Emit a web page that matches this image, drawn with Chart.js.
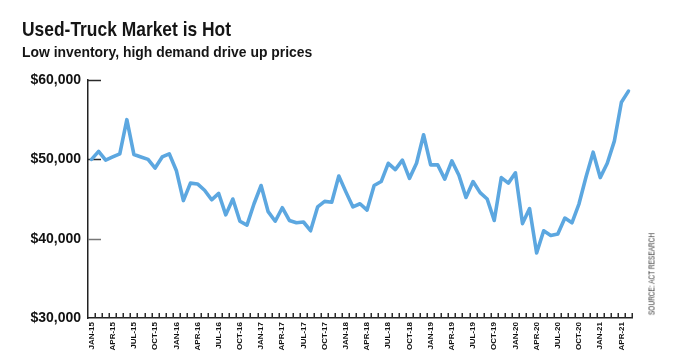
<!DOCTYPE html>
<html>
<head>
<meta charset="utf-8">
<script src="https://cdn.jsdelivr.net/npm/chart.js@4/dist/chart.umd.min.js"></script>
<style>
  html, body { margin: 0; padding: 0; background: #fff; }
  #wrap { position: relative; width: 684px; height: 359px; overflow: hidden; background: #fff; }
  #chart { position: absolute; left: 0; top: 0; }
  .narrow { font-family: "Liberation Sans", Arial, sans-serif; }
  #title { position: absolute; left: 22px; top: 17.5px; font-size: 21px; font-weight: bold; line-height: 21px; color: #151515; white-space: nowrap; transform-origin: left top; }
  #subtitle { position: absolute; left: 22px; top: 45px; font-size: 14px; font-weight: bold; line-height: 14px; color: #151515; white-space: nowrap; transform-origin: left top; }
  #source { position: absolute; left: 652px; top: 274px; font-size: 9px; line-height: 9px; color: #333; white-space: nowrap; }
</style>
</head>
<body>
<div id="wrap">
  <canvas id="chart" width="684" height="359"></canvas>
  <div id="title" class="narrow">Used-Truck Market is Hot</div>
  <div id="subtitle" class="narrow">Low inventory, high demand drive up prices</div>
  <div id="source" class="narrow">SOURCE: ACT RESEARCH</div>
</div>
<script>
// ---- Data ----
const months = [
  'JAN-15','FEB-15','MAR-15','APR-15','MAY-15','JUN-15','JUL-15','AUG-15','SEP-15','OCT-15','NOV-15','DEC-15',
  'JAN-16','FEB-16','MAR-16','APR-16','MAY-16','JUN-16','JUL-16','AUG-16','SEP-16','OCT-16','NOV-16','DEC-16',
  'JAN-17','FEB-17','MAR-17','APR-17','MAY-17','JUN-17','JUL-17','AUG-17','SEP-17','OCT-17','NOV-17','DEC-17',
  'JAN-18','FEB-18','MAR-18','APR-18','MAY-18','JUN-18','JUL-18','AUG-18','SEP-18','OCT-18','NOV-18','DEC-18',
  'JAN-19','FEB-19','MAR-19','APR-19','MAY-19','JUN-19','JUL-19','AUG-19','SEP-19','OCT-19','NOV-19','DEC-19',
  'JAN-20','FEB-20','MAR-20','APR-20','MAY-20','JUN-20','JUL-20','AUG-20','SEP-20','OCT-20','NOV-20','DEC-20',
  'JAN-21','FEB-21','MAR-21','APR-21','MAY-21'
];
const price = [
  50000, 51000, 49900, 50300, 50700, 55000, 50600, 50300, 50000, 48900, 50300, 50700,
  48600, 44800, 47000, 46900, 46100, 44900, 45700, 43000, 45000, 42200, 41700, 44400,
  46700, 43400, 42200, 43900, 42300, 42000, 42100, 41000, 44000, 44700, 44600, 47900,
  45900, 44000, 44400, 43600, 46700, 47200, 49500, 48700, 49900, 47600, 49500, 53100,
  49300, 49300, 47500, 49800, 48000, 45200, 47200, 45800, 45000, 42300, 47700, 47000,
  48300, 41900, 43800, 38200, 41000, 40400, 40600, 42600, 42000, 44400, 47800, 50900,
  47700, 49500, 52300, 57200, 58600
];
const xTickLabels = [
  'JAN-15','APR-15','JUL-15','OCT-15','JAN-16','APR-16','JUL-16','OCT-16','JAN-17','APR-17','JUL-17','OCT-17',
  'JAN-18','APR-18','JUL-18','OCT-18','JAN-19','APR-19','JUL-19','OCT-19','JAN-20','APR-20','JUL-20','OCT-20',
  'JAN-21','APR-21'
];
const yTickValues = [30000, 40000, 50000, 60000];

// ---- Condensed look for the heading texts ----
function condense(id, target, rotated) {
  const el = document.getElementById(id);
  const s = target / el.offsetWidth;
  el.style.transform = rotated
    ? 'translate(-50%, -50%) rotate(-90deg) scaleX(' + s + ')'
    : 'scaleX(' + s + ')';
}
condense('title', 209, false);
condense('subtitle', 290, false);
condense('source', 82, true);

// ---- Chart ----
const WIDE = '"Liberation Sans", Arial, sans-serif';

const inwardTicks = {
  id: 'inwardTicks',
  beforeDatasetsDraw(chart) {
    const { ctx, chartArea, scales } = chart;
    const xs = scales.x, ys = scales.y;
    ctx.save();
    ctx.strokeStyle = '#2a2a2a';
    ctx.lineWidth = 1.5;
    for (let k = 0; k < months.length; k++) {
      const x = Math.round(xs.getPixelForValue(k + 0.5)) + 0.25;
      ctx.beginPath();
      ctx.moveTo(x, chartArea.bottom);
      ctx.lineTo(x, chartArea.bottom - 5);
      ctx.stroke();
    }
    yTickValues.forEach(v => {
      if (v === ys.min) return;
      const y = Math.round(ys.getPixelForValue(v)) + 0.5;
      ctx.strokeStyle = v === 40000 ? '#777' : '#2a2a2a';
      ctx.beginPath();
      ctx.moveTo(chartArea.left, y);
      ctx.lineTo(chartArea.left + 13, y);
      ctx.stroke();
    });
    ctx.restore();
  }
};

new Chart(document.getElementById('chart'), {
  type: 'line',
  data: {
    labels: months,
    datasets: [{
      data: price,
      borderColor: '#5ca7e0',
      borderWidth: 3.6,
      pointRadius: 0,
      tension: 0,
      fill: false,
      borderJoinStyle: 'round',
      borderCapStyle: 'round'
    }]
  },
  options: {
    responsive: false,
    animation: false,
    devicePixelRatio: 1,
    layout: { padding: { top: 80, right: 52, left: 0, bottom: 0 } },
    plugins: { legend: { display: false }, tooltip: { enabled: false }, title: { display: false } },
    scales: {
      x: {
        type: 'category',
        offset: true,
        grid: { display: false, drawTicks: false, drawOnChartArea: false },
        border: { display: true, color: '#222', width: 1.5 },
        ticks: {
          autoSkip: false,
          maxRotation: 90,
          minRotation: 90,
          padding: 4,
          color: '#111',
          font: { family: WIDE, size: 8, weight: 'bold' },
          callback: function (value, index) {
            const lab = months[index];
            return xTickLabels.includes(lab) ? lab : '';
          }
        },
        afterFit(scale) { scale.height = 41; }
      },
      y: {
        min: 30000,
        max: 60000,
        afterBuildTicks(scale) { scale.ticks = yTickValues.map(v => ({ value: v })); },
        grid: { display: false, drawTicks: false, drawOnChartArea: false },
        border: { display: true, color: '#222', width: 1.5 },
        ticks: {
          padding: 7,
          color: '#111',
          font: { family: WIDE, size: 14, weight: 'bold' },
          callback: v => '$' + Number(v).toLocaleString('en-US')
        },
        afterFit(scale) { scale.width = 88; }
      }
    }
  },
  plugins: [inwardTicks]
});
</script>
</body>
</html>
